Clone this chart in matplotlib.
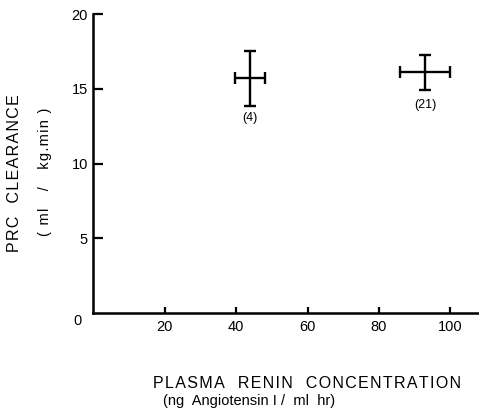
"""
PRC clearance vs plasma renin concentration
"""

import matplotlib
matplotlib.use('Agg')
import matplotlib.pyplot as plt

# group means and spread
renin = [43.9, 93.0]
renin_err = [4.2, 7.0]
clearance = [15.7, 16.1]
clearance_err = [1.85, 1.2]
n_labels = ['(4)', '(21)']
n_label_y = [13.05, 13.9]

x_ticks = [20, 40, 60, 80, 100]
y_ticks = [5, 10, 15, 20]

plt.rcParams['font.family'] = ['Liberation Sans', 'DejaVu Sans']


def spaced(s):
    # old typewriter-ish letter spacing
    return '\u200a'.join(s)


fig = plt.figure(figsize=(4.79, 4.18), dpi=100)
ax = fig.add_axes([0.195, 0.251, 0.805, 0.715])

ax.errorbar(renin, clearance, xerr=renin_err, yerr=clearance_err,
            fmt='none', ecolor='black', elinewidth=1.7, capsize=4.3,
            capthick=1.7)

for x, y, lab in zip(renin, n_label_y, n_labels):
    ax.text(x, y, lab, ha='center', va='center', fontsize=9)

ax.set_xlim(0, 108)
ax.set_ylim(0, 20)
ax.set_xticks(x_ticks)
ax.set_yticks(y_ticks)
ax.tick_params(axis='both', direction='in', labelsize=10.5, width=1.6)
ax.tick_params(axis='y', length=7, pad=4)
ax.tick_params(axis='x', length=4, pad=5)

for side in ['top', 'right']:
    ax.spines[side].set_visible(False)
for side in ['left', 'bottom']:
    ax.spines[side].set_linewidth(1.8)

# shared origin label
ax.text(-0.04, -0.027, '0', transform=ax.transAxes, ha='center', va='center',
        fontsize=10.5)

fig.text(15 / 479, 1 - 173 / 418, spaced('PRC  CLEARANCE'), rotation=90,
         ha='center', va='center', fontsize=11.5)
fig.text(45 / 479, 1 - 172 / 418, spaced('( ml   /   kg.min )'), rotation=90,
         ha='center', va='center', fontsize=10.5)
fig.text(153 / 479, 1 - 383 / 418, spaced('PLASMA  RENIN  CONCENTRATION'),
         ha='left', va='center', fontsize=11.5)
fig.text(163 / 479, 1 - 401 / 418, '(ng  Angiotensin I /  ml  hr)',
         ha='left', va='center', fontsize=10.5)

plt.savefig('out.png', dpi=100)
plt.close()
